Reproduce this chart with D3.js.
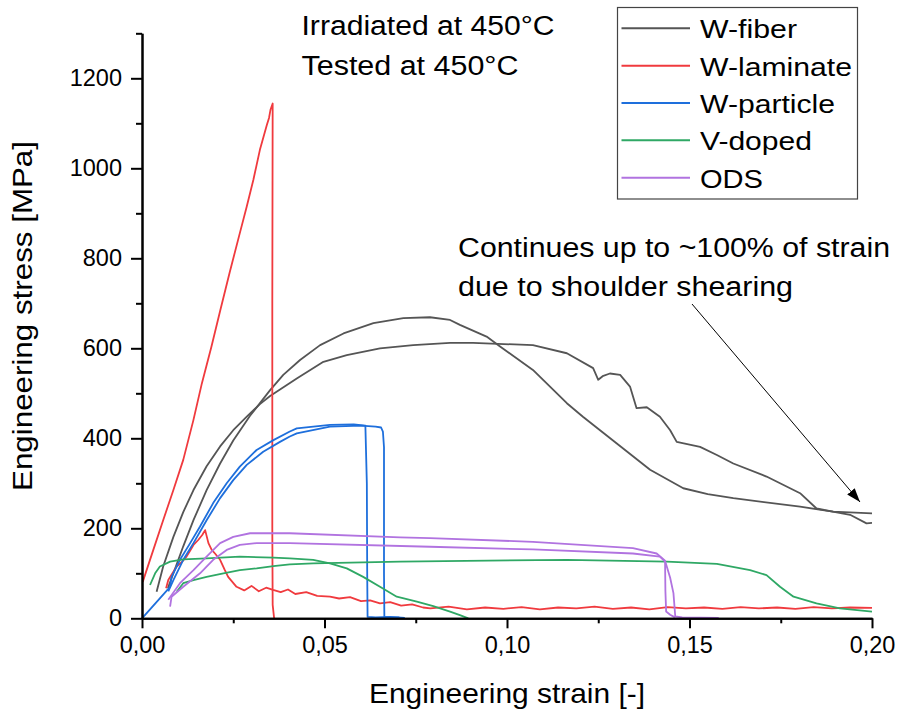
<!DOCTYPE html>
<html>
<head>
<meta charset="utf-8">
<script src="https://cdn.jsdelivr.net/npm/d3@7"></script>
<style>
  body { margin: 0; background: #fff; }
  text { font-family: Arial, "Liberation Sans", sans-serif; fill: #000; }
  .axis path, .axis line { stroke: #000; stroke-width: 2; }
</style>
</head>
<body>
<div id="wrapper"></div>
<script>
// data: [strain, stress MPa]
const wFiber1 = [[0.0071,67],[0.0086,100],[0.0113,160],[0.0141,218],[0.0177,285],[0.0214,344],[0.025,395],[0.0296,450],[0.0351,507],[0.0387,541],[0.0433,574],[0.0488,607],[0.0552,633],[0.0634,656],[0.0716,667],[0.0789,669],[0.0844,663],[0.0871,652],[0.0944,626],[0.0981,604],[0.1071,552],[0.1164,478],[0.1208,448],[0.13,389],[0.1392,330],[0.1483,289],[0.155,276],[0.162,267],[0.1803,248],[0.1893,237],[0.2,233]];
const wFiber2 = [[0.004,59],[0.0058,115],[0.0086,181],[0.0113,236],[0.0141,285],[0.0177,338],[0.0214,382],[0.025,418],[0.0287,448],[0.0323,476],[0.0351,494],[0.0424,533],[0.0497,570],[0.0561,585],[0.0652,600],[0.0743,607],[0.0844,612],[0.0907,612],[0.1071,607],[0.1164,589],[0.1236,556],[0.125,530],[0.1262,538],[0.1282,544],[0.131,541],[0.1337,515],[0.1355,467],[0.1383,469],[0.1419,448],[0.1447,418],[0.1465,392],[0.1529,381],[0.1575,363],[0.162,344],[0.1711,315],[0.1803,278],[0.1848,244],[0.194,230],[0.1985,211],[0.2,212]];

const wLaminate1 = [[0.0002,81],[0.0031,152],[0.0058,218],[0.0086,285],[0.0113,352],[0.0141,441],[0.0164,522],[0.019,603],[0.0214,683],[0.024,768],[0.0268,856],[0.0287,915],[0.0305,974],[0.0323,1041],[0.0342,1096],[0.0348,1112],[0.0352,1130],[0.0358,1144],[0.0357,700],[0.0357,200],[0.0358,30],[0.0362,0]];
const wLaminate2 = [[0.0066,67],[0.0072,85],[0.0095,115],[0.011,126],[0.0122,137],[0.013,148],[0.0141,163],[0.0154,174],[0.0165,185],[0.0173,196],[0.0182,167],[0.0191,152],[0.02,144],[0.0214,130],[0.0227,107],[0.0236,92],[0.0259,70],[0.028,62],[0.030,72],[0.032,60],[0.034,68],[0.0359,63],[0.038,58],[0.040,64],[0.042,54],[0.045,58],[0.048,50],[0.0515,48],[0.054,44],[0.057,47],[0.060,38],[0.0625,40],[0.0652,33],[0.068,36],[0.071,28],[0.074,31],[0.077,24],[0.079,22],[0.084,26],[0.089,20],[0.094,24],[0.099,21],[0.104,25],[0.109,20],[0.114,24],[0.119,22],[0.124,26],[0.129,21],[0.134,24],[0.139,20],[0.144,25],[0.149,22],[0.154,24],[0.159,21],[0.164,25],[0.169,22],[0.174,24],[0.179,21],[0.184,25],[0.189,22],[0.194,24],[0.2,23]];

const wParticle1 = [[0,0],[0.0077,70],[0.0081,92],[0.0104,130],[0.0132,167],[0.0159,204],[0.0195,256],[0.0232,300],[0.0268,337],[0.0314,374],[0.036,396],[0.0405,415],[0.0424,422],[0.0515,430],[0.058,431],[0.0612,428],[0.0616,300],[0.0617,100],[0.0618,3],[0.064,2],[0.068,3],[0.072,1]];
const wParticle2 = [[0.0072,60],[0.0086,85],[0.0113,130],[0.0141,167],[0.0177,218],[0.0214,267],[0.025,307],[0.0287,341],[0.0332,370],[0.0378,392],[0.0405,404],[0.0424,411],[0.0515,426],[0.06,428],[0.064,426],[0.0655,424],[0.066,415],[0.0663,380],[0.0663,100],[0.0664,3],[0.068,2],[0.0705,2]];

const vDoped1 = [[0.0022,74],[0.0036,100],[0.0049,115],[0.0077,126],[0.0113,131],[0.0177,133],[0.0268,137],[0.036,135],[0.0405,133],[0.0469,130],[0.0515,122],[0.0561,111],[0.0606,92],[0.0652,70],[0.0698,48],[0.0753,37],[0.0798,27],[0.0844,15],[0.0871,7],[0.0894,0]];
const vDoped2 = [[0.0095,59],[0.0113,78],[0.0141,85],[0.0177,92],[0.0223,100],[0.0268,107],[0.0314,111],[0.036,116],[0.0405,120],[0.0469,122],[0.0707,126],[0.1164,130],[0.1438,126],[0.1575,121],[0.1666,107],[0.1711,96],[0.1748,70],[0.1785,48],[0.1848,33],[0.1912,22],[0.2,15]];

const ods1 = [[0.0072,41],[0.0104,78],[0.0141,107],[0.0177,137],[0.0214,167],[0.025,181],[0.0296,189],[0.036,189],[0.0405,189],[0.0707,180],[0.0789,178],[0.1071,170],[0.1345,156],[0.141,144],[0.1433,128],[0.1447,90],[0.1456,56],[0.1461,4],[0.148,2],[0.158,1]];
const ods2 = [[0.0077,26],[0.0081,48],[0.0113,70],[0.0159,100],[0.0195,130],[0.0232,152],[0.0268,163],[0.0314,167],[0.0405,167],[0.0789,159],[0.1071,153],[0.1345,144],[0.1419,137],[0.1433,126],[0.1434,60],[0.1436,15],[0.1447,8],[0.146,2]];

const seriesNames = ['W-fiber','W-laminate','W-particle','V-doped','ODS'];
const seriesColors = ['#555555','#f03a3e','#1e6fdc','#2fa865','#b173e0'];
const seriesCurves = [[wFiber1,wFiber2],[wLaminate1,wLaminate2],[wParticle1,wParticle2],[vDoped1,vDoped2],[ods1,ods2]];

const xTicks = [0,0.05,0.10,0.15,0.20];
const xMinor = [0.025,0.075,0.125,0.175];
const yTicks = [0,200,400,600,800,1000,1200];
const yMinor = [100,300,500,700,900,1100,1300];

const width = 900, height = 715;
const svg = d3.select('#wrapper').append('svg')
  .attr('width', width)
  .attr('height', height);

const xScale = d3.scaleLinear().domain([0, 0.2]).range([142, 872]);
const yScale = d3.scaleLinear().domain([0, 1300]).range([618.3, 33.3]);

const locale = d3.formatLocale({decimal: ',', thousands: '.', grouping: [3], currency: ['', '']});
const fmtX = locale.format('.2f');

// curves
const lineGen = d3.line()
  .x(d => xScale(d[0]))
  .y(d => yScale(d[1]));

const plot = svg.append('g');
seriesCurves.forEach((curves, i) => {
  curves.forEach(c => {
    plot.append('path')
      .attr('d', lineGen(c))
      .attr('fill', 'none')
      .attr('stroke', seriesColors[i])
      .attr('stroke-width', 1.8)
      .attr('stroke-linejoin', 'round');
  });
});

// axes
svg.append('g')
  .attr('class', 'axis')
  .attr('transform', `translate(0,${yScale(0)})`)
  .call(d3.axisBottom(xScale).tickValues(xTicks).tickFormat(fmtX).tickSize(10).tickSizeOuter(0).tickPadding(8));
svg.append('g')
  .attr('class', 'axis')
  .attr('transform', `translate(0,${yScale(0)})`)
  .call(d3.axisBottom(xScale).tickValues(xMinor).tickFormat('').tickSize(5).tickSizeOuter(0));

svg.append('g')
  .attr('class', 'axis')
  .attr('transform', `translate(${xScale(0)},0)`)
  .call(d3.axisLeft(yScale).tickValues(yTicks).tickFormat(d3.format('d')).tickSize(11).tickSizeOuter(0).tickPadding(9));
svg.append('g')
  .attr('class', 'axis')
  .attr('transform', `translate(${xScale(0)},0)`)
  .call(d3.axisLeft(yScale).tickValues(yMinor).tickFormat('').tickSize(6).tickSizeOuter(0));

svg.selectAll('.axis text')
  .style('font-size', '23.5px')
  .style('font-family', 'Arial, "Liberation Sans", sans-serif');

// axis titles
svg.append('text')
  .attr('x', 507).attr('y', 703)
  .attr('text-anchor', 'middle')
  .attr('textLength', 276).attr('lengthAdjust', 'spacingAndGlyphs')
  .style('font-size', '28px')
  .text('Engineering strain [-]');

svg.append('text')
  .attr('transform', 'translate(32,316) rotate(-90)')
  .attr('text-anchor', 'middle')
  .attr('textLength', 350).attr('lengthAdjust', 'spacingAndGlyphs')
  .style('font-size', '28px')
  .text('Engineering stress [MPa]');

// annotations
const notes = [
  {t: 'Irradiated at 450°C', x: 301.5, y: 35, w: 253},
  {t: 'Tested at 450°C', x: 301.5, y: 75, w: 217},
  {t: 'Continues up to ~100% of strain', x: 458, y: 257, w: 432},
  {t: 'due to shoulder shearing', x: 458, y: 296, w: 335}
];
notes.forEach(n => {
  svg.append('text')
    .attr('x', n.x).attr('y', n.y)
    .attr('textLength', n.w).attr('lengthAdjust', 'spacingAndGlyphs')
    .style('font-size', '27px')
    .text(n.t);
});

// arrow
svg.append('defs').append('marker')
  .attr('id', 'arr')
  .attr('viewBox', '0 0 10 10')
  .attr('refX', 10).attr('refY', 5)
  .attr('markerWidth', 14).attr('markerHeight', 14)
  .attr('markerUnits', 'userSpaceOnUse')
  .attr('orient', 'auto')
  .append('path')
  .attr('d', 'M0,1.5 L10,5 L0,8.5 Z')
  .attr('fill', '#000');

svg.append('line')
  .attr('x1', 692).attr('y1', 304)
  .attr('x2', 860).attr('y2', 502)
  .attr('stroke', '#000')
  .attr('stroke-width', 1)
  .attr('marker-end', 'url(#arr)');

// legend
const legend = svg.append('g');
legend.append('rect')
  .attr('x', 617.5).attr('y', 7.5)
  .attr('width', 240).attr('height', 191.5)
  .attr('fill', '#fff')
  .attr('stroke', '#444')
  .attr('stroke-width', 1.2);

const legendW = [97, 152, 135, 112, 63];
seriesNames.forEach((name, i) => {
  const cy = 28.3 + i * 37.35;
  legend.append('line')
    .attr('x1', 621.5).attr('x2', 690)
    .attr('y1', cy).attr('y2', cy)
    .attr('stroke', seriesColors[i])
    .attr('stroke-width', 2);
  legend.append('text')
    .attr('x', 700).attr('y', cy + 10)
    .attr('textLength', legendW[i]).attr('lengthAdjust', 'spacingAndGlyphs')
    .style('font-size', '25px')
    .text(name);
});
</script>
</body>
</html>
